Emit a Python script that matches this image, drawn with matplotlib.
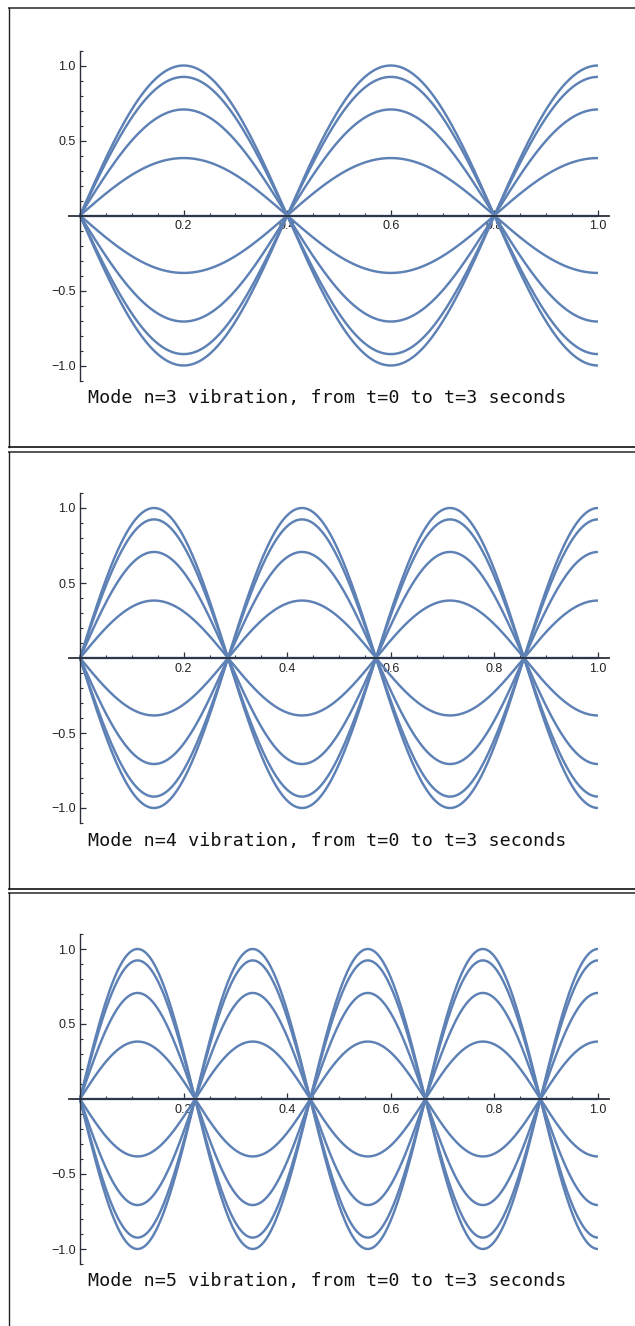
import numpy as np
import matplotlib
matplotlib.use("Agg")
import matplotlib.pyplot as plt
from matplotlib.lines import Line2D
from matplotlib.ticker import MultipleLocator, FixedLocator

# mode numbers shown, one panel each
modes = [3, 4, 5]
# snapshot amplitudes of the standing wave (fixed-free string)
amplitudes = [1.0, 0.924, 0.707, 0.383, 0.0, -0.383, -0.707, -0.924, -1.0]
x_major = [0.2, 0.4, 0.6, 0.8, 1.0]
y_major = [-1.0, -0.5, 0.5, 1.0]
captions = ["Mode n=%d vibration, from t=0 to t=3 seconds" % n for n in modes]

W, H = 635, 1326
LINE = "#5E81B5"
AXC = "#2b2f3a"

fig = plt.figure(figsize=(W / 100, H / 100), dpi=100)

# pixel layout of each panel
zero_px = [215.5, 658.0, 1099.0]
box_top = [8.0, 452.0, 893.0]
box_bot = [447.0, 889.0, None]

x = np.linspace(0, 1, 600)

for i, n in enumerate(modes):
    y0 = zero_px[i]
    ax = fig.add_axes([69 / W, (H - (y0 + 165)) / H, 540 / W, 330 / H])
    k = n - 0.5
    for a in amplitudes:
        ax.plot(x, a * np.sin(k * np.pi * x), color=LINE, lw=1.75,
                solid_capstyle="butt", zorder=2)
    ax.set_xlim(-11 / 518, 529 / 518)
    ax.set_ylim(-1.1, 1.1)
    for s in ["top", "right"]:
        ax.spines[s].set_visible(False)
    for s in ["left", "bottom"]:
        ax.spines[s].set_position(("data", 0))
        ax.spines[s].set_color(AXC)
        ax.spines[s].set_linewidth(1.0)
    ax.spines["bottom"].set_linewidth(1.3)
    ax.spines["bottom"].set_zorder(3)
    ax.xaxis.set_major_locator(FixedLocator(x_major))
    ax.yaxis.set_major_locator(FixedLocator(y_major))
    ax.xaxis.set_minor_locator(MultipleLocator(0.05))
    ax.yaxis.set_minor_locator(MultipleLocator(0.1))
    ax.set_xticklabels(["%.1f" % v for v in x_major])
    ax.set_yticklabels([("\u2212%.1f" % -v) if v < 0 else "%.1f" % v for v in y_major])
    ax.tick_params(which="major", direction="in", length=4.5, width=0.9,
                   color=AXC, labelsize=9, labelcolor="#222222",
                   labelfontfamily="Liberation Sans")
    ax.tick_params(which="minor", direction="in", length=2.5, width=0.8, color=AXC)
    ax.tick_params(axis="x", which="major", pad=3.5)
    ax.tick_params(axis="y", which="major", pad=3)
    ax.patch.set_visible(False)

    fig.text(88 / W, 1 - (y0 + 182.5) / H, captions[i], family="DejaVu Sans Mono",
             fontsize=13.2, va="center", ha="left", color="#111111")

    # cell frame (open on the right)
    top = 1 - box_top[i] / H
    bot = 0 if box_bot[i] is None else 1 - box_bot[i] / H
    xl = 8.5 / W
    fig.add_artist(Line2D([xl, 1.0], [top, top], color="#555555", lw=1.4))
    fig.add_artist(Line2D([xl, xl], [bot, top], color="#222222", lw=1.0))
    if box_bot[i] is not None:
        fig.add_artist(Line2D([xl, 1.0], [bot, bot], color="#111111", lw=1.2))

fig.savefig("out.png", dpi=100)
